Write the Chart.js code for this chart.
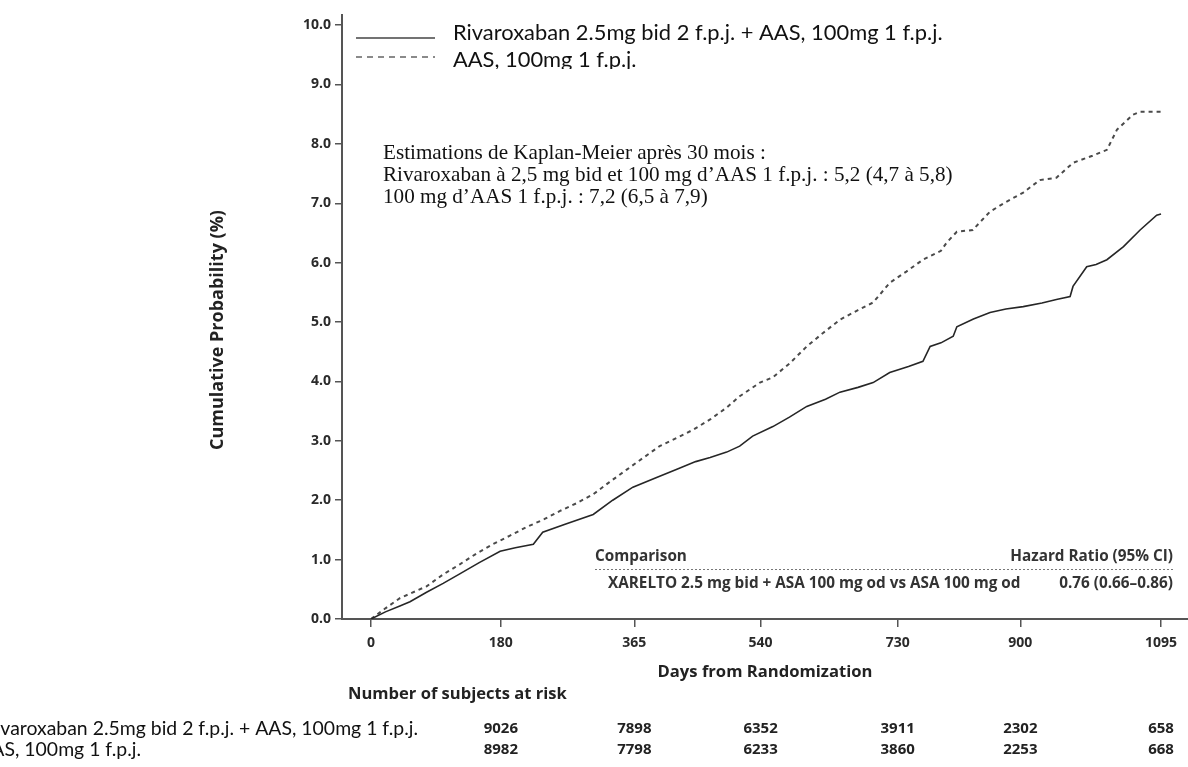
<!DOCTYPE html>
<html>
<head>
<meta charset="utf-8">
<script src="https://cdn.jsdelivr.net/npm/chart.js@4/dist/chart.umd.min.js"></script>
<style>
  html, body { margin: 0; padding: 0; background: #fff; overflow: hidden; }
  #wrap { width: 1188px; height: 767px; }
</style>
</head>
<body>
<div id="wrap"><canvas id="chart" width="1188" height="767"></canvas></div>
<script>
const seriesNames = ['Rivaroxaban 2.5mg bid 2 f.p.j. + AAS, 100mg 1 f.p.j.', 'AAS, 100mg 1 f.p.j.']

// cumulative probability (%), by day
const rivaDays = [0, 20, 40, 54, 77, 100, 123, 150, 179, 200, 225, 238, 270, 308, 335, 363, 395, 424, 450, 470, 493, 511, 529, 557, 580, 604, 630, 650, 675, 696, 719, 745, 765, 775, 790, 807, 812, 835, 858, 880, 904, 930, 950, 969, 973, 992, 1005, 1020, 1043, 1066, 1089, 1095]
const rivaPct = [0, 0.12, 0.22, 0.29, 0.45, 0.6, 0.76, 0.95, 1.14, 1.2, 1.26, 1.46, 1.6, 1.76, 2.0, 2.22, 2.38, 2.52, 2.65, 2.72, 2.81, 2.91, 3.08, 3.24, 3.4, 3.58, 3.7, 3.82, 3.9, 3.98, 4.15, 4.25, 4.34, 4.59, 4.65, 4.76, 4.92, 5.05, 5.16, 5.22, 5.26, 5.32, 5.38, 5.43, 5.6, 5.93, 5.97, 6.05, 6.27, 6.55, 6.8, 6.82]

const asaDays = [0, 20, 40, 77, 100, 123, 146, 169, 192, 216, 240, 262, 285, 308, 330, 355, 378, 400, 424, 447, 470, 493, 511, 539, 557, 580, 604, 627, 650, 675, 696, 719, 742, 765, 790, 798, 812, 834, 858, 880, 904, 927, 950, 973, 1000, 1020, 1034, 1056, 1066, 1095]
const asaPct = [0, 0.18, 0.35, 0.55, 0.75, 0.92, 1.1, 1.26, 1.4, 1.55, 1.68, 1.82, 1.95, 2.1, 2.3, 2.52, 2.72, 2.91, 3.05, 3.19, 3.36, 3.56, 3.75, 3.98, 4.07, 4.3, 4.59, 4.82, 5.04, 5.2, 5.33, 5.66, 5.85, 6.05, 6.2, 6.34, 6.52, 6.55, 6.86, 7.02, 7.18, 7.39, 7.43, 7.68, 7.8, 7.9, 8.24, 8.49, 8.54, 8.54]

const xTickDays = [0, 180, 365, 540, 730, 900, 1095]
const yTickVals = [0, 1, 2, 3, 4, 5, 6, 7, 8, 9, 10]

const riskDays = [180, 365, 540, 730, 900, 1095]
const riskRiva = [9026, 7898, 6352, 3911, 2302, 658]
const riskAsa = [8982, 7798, 6233, 3860, 2253, 668]

const kmNotes = [
  'Estimations de Kaplan-Meier après 30 mois :',
  'Rivaroxaban à 2,5 mg bid et 100 mg d’AAS 1 f.p.j. : 5,2 (4,7 à 5,8)',
  '100 mg d’AAS 1 f.p.j. : 7,2 (6,5 à 7,9)'
]
const hrHead = ['Comparison', 'Hazard Ratio (95% CI)']
const hrRow = ['XARELTO 2.5 mg bid + ASA 100 mg od vs ASA 100 mg od', '0.76 (0.66–0.86)']
const xTitle = 'Days from Randomization'
const yTitle = 'Cumulative Probability (%)'
const riskTitle = 'Number of subjects at risk'

const SANS = '"Open Sans", "DejaVu Sans", sans-serif'
const CAL = 'Lato, "Open Sans", sans-serif'
const SERIF = '"Liberation Serif", "DejaVu Serif", serif'

function toXY(days, vals) {
  return days.map((d, i) => ({x: d, y: vals[i]}))
}

// font size so that text spans the given width
function fitSize(ctx, text, weight, family, width) {
  ctx.font = weight + ' 100px ' + family
  return 100 * width / ctx.measureText(text).width
}

const extras = {
  id: 'extras',
  afterDraw(chart) {
    const ctx = chart.ctx
    const xs = chart.scales.x
    ctx.save()

    // legend top
    ctx.strokeStyle = '#444'
    ctx.lineWidth = 1.6
    ctx.beginPath(); ctx.moveTo(356, 38); ctx.lineTo(435, 38); ctx.stroke()
    ctx.strokeStyle = '#8a8a8a'
    ctx.lineWidth = 2
    ctx.setLineDash([6, 5])
    ctx.beginPath(); ctx.moveTo(356, 57); ctx.lineTo(435, 57); ctx.stroke()
    ctx.setLineDash([])

    let s = fitSize(ctx, seriesNames[0], 'normal', CAL, 490)
    ctx.font = 'normal ' + s + 'px ' + CAL
    ctx.fillStyle = '#111'
    ctx.textBaseline = 'middle'
    ctx.textAlign = 'left'
    ctx.fillText(seriesNames[0], 453, 33)
    ctx.save()
    ctx.beginPath(); ctx.rect(0, 0, 1188, 69); ctx.clip()
    ctx.fillText(seriesNames[1], 453, 60)
    ctx.restore()

    // KM notes
    s = fitSize(ctx, kmNotes[1], 'normal', SERIF, 570)
    ctx.font = 'normal ' + s + 'px ' + SERIF
    kmNotes.forEach((t, i) => ctx.fillText(t, 383, 153 + i * 22))

    // hazard ratio box
    s = fitSize(ctx, hrRow[0], 'bold', SANS, 413)
    ctx.font = 'bold ' + s + 'px ' + SANS
    ctx.fillStyle = '#333'
    ctx.fillText(hrHead[0], 595, 557)
    ctx.fillText(hrRow[0], 608, 584)
    ctx.textAlign = 'right'
    ctx.fillText(hrHead[1], 1173, 557)
    ctx.fillText(hrRow[1], 1173, 584)
    ctx.strokeStyle = '#777'
    ctx.lineWidth = 1
    ctx.setLineDash([2, 2])
    ctx.beginPath(); ctx.moveTo(595, 569.5); ctx.lineTo(1173, 569.5); ctx.stroke()
    ctx.setLineDash([])

    // axis titles
    s = fitSize(ctx, xTitle, 'bold', SANS, 215)
    ctx.font = 'bold ' + s + 'px ' + SANS
    ctx.fillStyle = '#222'
    ctx.textAlign = 'center'
    ctx.fillText(xTitle, 765, 672)
    s = fitSize(ctx, yTitle, 'bold', SANS, 240)
    ctx.font = 'bold ' + s + 'px ' + SANS
    ctx.save()
    ctx.translate(218, 330)
    ctx.rotate(-Math.PI / 2)
    ctx.fillText(yTitle, 0, 0)
    ctx.restore()

    // risk table
    s = fitSize(ctx, riskTitle, 'bold', SANS, 219)
    ctx.font = 'bold ' + s + 'px ' + SANS
    ctx.textAlign = 'left'
    ctx.fillText(riskTitle, 348, 694)
    ctx.font = 'bold 15px ' + SANS
    ctx.textAlign = 'center'
    riskDays.forEach((d, i) => {
      const px = xs.getPixelForValue(d)
      ctx.fillText(String(riskRiva[i]), px, 729)
      ctx.fillText(String(riskAsa[i]), px, 750)
    })
    s = fitSize(ctx, seriesNames[0].slice(2), 'normal', CAL, 418)
    ctx.font = 'normal ' + s + 'px ' + CAL
    ctx.fillStyle = '#111'
    ctx.textAlign = 'right'
    ctx.fillText(seriesNames[0], 418, 729)
    ctx.fillText(seriesNames[1], 141, 750)

    ctx.restore()
  }
}

const chart = new Chart(document.getElementById('chart'), {
  type: 'line',
  data: {
    datasets: [
      {label: seriesNames[0], data: toXY(rivaDays, rivaPct), borderColor: '#262626', borderWidth: 1.6, pointRadius: 0, tension: 0, fill: false},
      {label: seriesNames[1], data: toXY(asaDays, asaPct), borderColor: '#4a4a4a', borderWidth: 2, borderDash: [4, 4], pointRadius: 0, tension: 0, fill: false}
    ]
  },
  options: {
    responsive: false,
    animation: false,
    devicePixelRatio: 1,
    layout: {padding: {top: 15, left: 0, right: 0, bottom: 0}},
    plugins: {legend: {display: false}, tooltip: {enabled: false}},
    scales: {
      x: {
        type: 'linear', min: -40.2, max: 1132.4,
        afterBuildTicks: s => { s.ticks = xTickDays.map(v => ({value: v})) },
        afterFit: s => { s.height = 767 - 619 },
        grid: {drawOnChartArea: false, drawTicks: true, tickLength: 8, color: '#555', lineWidth: 1.5},
        border: {color: '#555', width: 2},
        ticks: {autoSkip: false, maxRotation: 0, padding: 8, color: '#2a2a2a', font: {family: SANS, weight: 'bold', size: 14}, callback: v => String(v)}
      },
      y: {
        type: 'linear', min: 0, max: 10.17,
        afterBuildTicks: s => { s.ticks = yTickVals.map(v => ({value: v})) },
        afterFit: s => { s.width = 342 },
        grid: {drawOnChartArea: false, drawTicks: true, tickLength: 7, color: '#555', lineWidth: 1.5},
        border: {color: '#555', width: 2},
        ticks: {padding: 4, color: '#2a2a2a', font: {family: SANS, weight: 'bold', size: 14}, callback: v => v.toFixed(1)}
      }
    }
  },
  plugins: [extras]
})
</script>
</body>
</html>
